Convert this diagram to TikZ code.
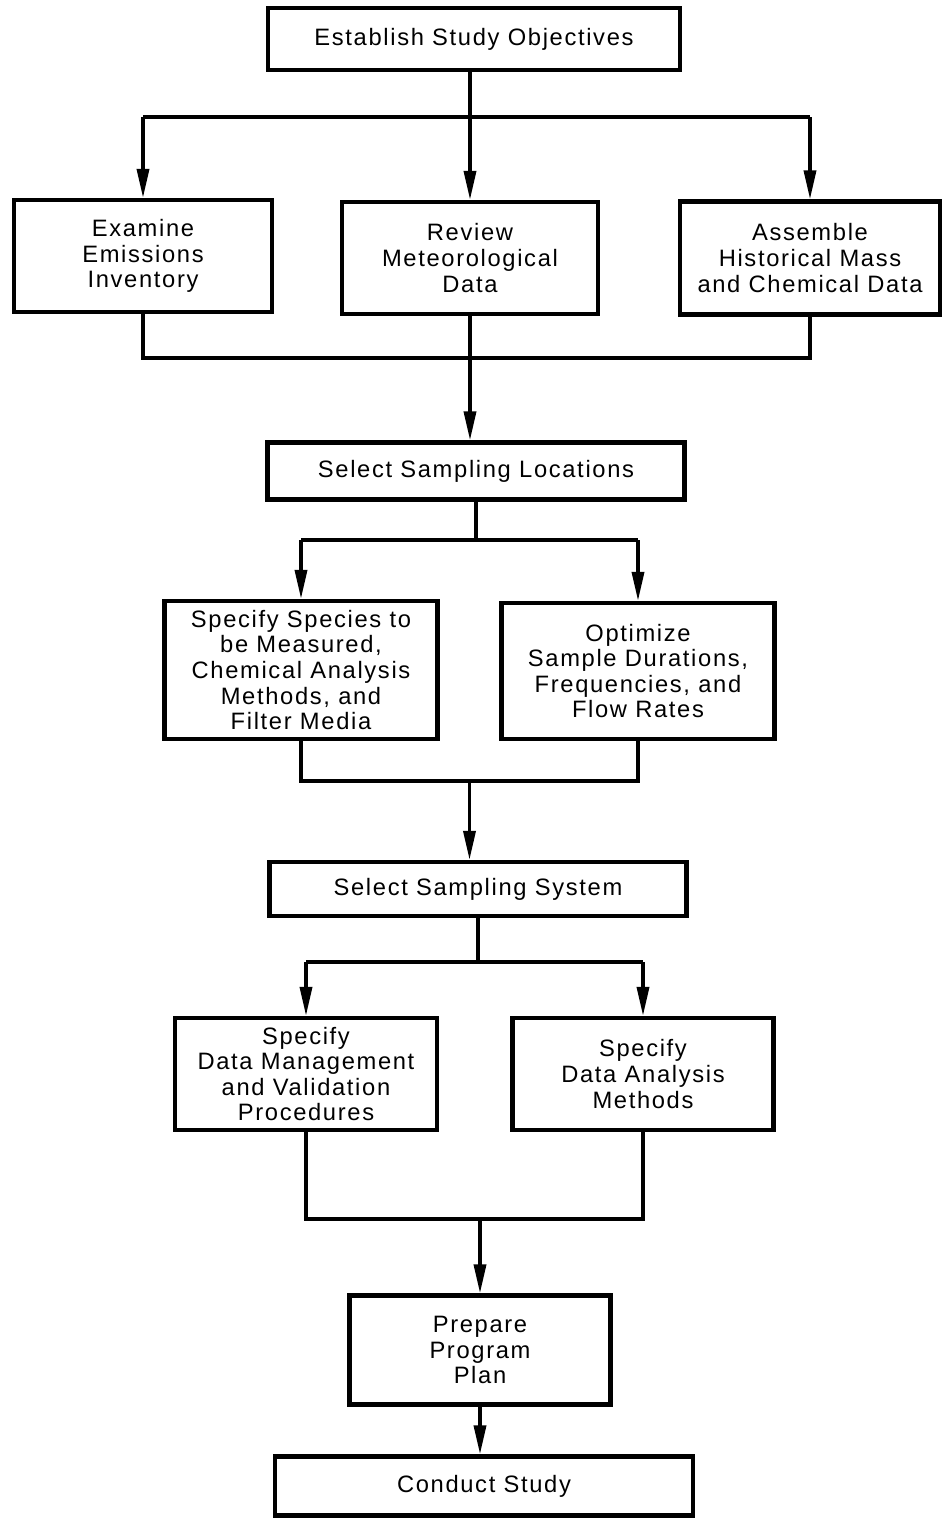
\documentclass[tikz,border=0pt]{standalone}
\usepackage{fontspec}
\setmainfont{Liberation Sans}[LetterSpace=7]
\usetikzlibrary{arrows.meta,calc}

\tikzset{
  stepbox/.style={draw, line width=2.4pt, align=center, inner sep=2pt,
    font=\fontsize{13.5}{14.6}\selectfont},
  wide/.style={stepbox, minimum width=8.3cm, minimum height=1.15cm},
  tall/.style={stepbox, minimum width=5.2cm, minimum height=2.24cm},
  link/.style={line width=2pt},
  arr/.style={link, -{Triangle[length=5.8mm, width=2.4mm]}}
}

\begin{document}
\begin{tikzpicture}
  \useasboundingbox (0,0) rectangle (18.86,-30.38);

  %% ---------- boxes ----------
  \node[wide, minimum width=8.24cm, minimum height=1.24cm] (obj) at (9.48,-0.78)
    {Establish Study Objectives};

  \node[tall, minimum width=5.16cm] (exam) at (2.86,-5.12)
    {Examine\\Emissions\\Inventory};
  \node[tall, minimum width=5.12cm] (rev) at (9.40,-5.16)
    {Review\\Meteorological\\Data};
  \node[tall, minimum height=2.26cm] (asm) at (16.20,-5.16)
    {Assemble\\Historical Mass\\and Chemical Data};

  \node[wide, minimum width=8.34cm, minimum height=1.14cm] (loc) at (9.52,-9.42)
    {Select Sampling Locations};

  \node[tall, minimum width=5.46cm, minimum height=2.76cm] (spec) at (6.02,-13.40)
    {Specify Species to\\be Measured,\\Chemical Analysis\\Methods, and\\Filter Media};
  \node[tall, minimum width=5.46cm, minimum height=2.72cm] (opt) at (12.76,-13.42)
    {Optimize\\Sample Durations,\\Frequencies, and\\Flow Rates};

  \node[wide, minimum width=8.34cm, minimum height=1.08cm] (sys) at (9.56,-17.78)
    {Select Sampling System};

  \node[tall, minimum width=5.24cm] (mgmt) at (6.12,-21.48)
    {Specify\\Data Management\\and Validation\\Procedures};
  \node[tall, minimum width=5.22cm] (ana) at (12.86,-21.48)
    {Specify\\Data Analysis\\Methods};

  \node[tall, minimum width=5.22cm, minimum height=2.18cm] (plan) at (9.60,-27.00)
    {Prepare\\Program\\Plan};

  \node[wide, minimum width=8.36cm, minimum height=1.18cm] (run) at (9.68,-29.72)
    {Conduct Study};

  %% ---------- bus lines ----------
  \coordinate (b1) at (0,-2.34);
  \coordinate (b2) at (0,-7.16);
  \coordinate (b3) at (0,-10.80);
  \coordinate (b4) at (0,-15.62);
  \coordinate (b5) at (0,-19.24);
  \coordinate (b6) at (0,-24.38);

  % objectives fan out to the three reviews
  \draw[link] (exam.north |- b1) -- (asm.north |- b1);
  \draw[arr] (rev.north |- obj.south) -- (rev.north);
  \draw[arr] (exam.north |- b1) -- (exam.north);
  \draw[arr] (asm.north |- b1) -- (asm.north);

  % reviews merge into sampling locations
  \draw[link] (exam.south) -- (exam.south |- b2) -- (asm.south |- b2) -- (asm.south);
  \draw[arr] (rev.south) -- (rev.south |- loc.north);

  % locations fan out
  \draw[link] (loc.south) -- (loc.south |- b3);
  \draw[link] (spec.north |- b3) -- (opt.north |- b3);
  \draw[arr] (spec.north |- b3) -- (spec.north);
  \draw[arr] (opt.north |- b3) -- (opt.north);

  % merge into sampling system
  \coordinate (m4) at ($(spec.south)!.5!(opt.south)$);
  \draw[link] (spec.south) -- (spec.south |- b4) -- (opt.south |- b4) -- (opt.south);
  \draw[arr] (m4 |- b4) -- (m4 |- sys.north);

  % system fans out
  \draw[link] (sys.south) -- (sys.south |- b5);
  \draw[link] (mgmt.north |- b5) -- (ana.north |- b5);
  \draw[arr] (mgmt.north |- b5) -- (mgmt.north);
  \draw[arr] (ana.north |- b5) -- (ana.north);

  % merge into program plan
  \draw[link] (mgmt.south) -- (mgmt.south |- b6) -- (ana.south |- b6) -- (ana.south);
  \draw[arr] (plan.north |- b6) -- (plan.north);
  \draw[arr] (plan.south) -- (plan.south |- run.north);
\end{tikzpicture}
\end{document}
